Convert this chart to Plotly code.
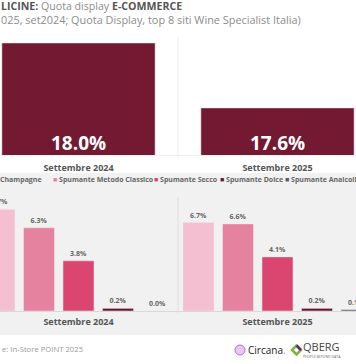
import plotly.graph_objects as go

# ---- data ----
periods = ["Settembre 2024", "Settembre 2025"]
total_share = [18.0, 17.6]
segments = ["Champagne", "Spumante Metodo Classico", "Spumante Secco",
            "Spumante Dolce", "Spumante Analcolico"]
seg_2024 = [7.7, 6.3, 3.8, 0.2, 0.0]
seg_2025 = [6.7, 6.6, 4.1, 0.2, 0.1]
seg_colors = ["#f4bfd0", "#e5829f", "#db4670", "#6b1631", "#5a5a5a"]
title_line1 = "<b>LICINE:</b> <span style='color:#8c8c8c'>Quota display</span> <b>E-COMMERCE</b>"
title_line2 = "025, set2024; Quota Display, top 8 siti Wine Specialist Italia)"
source_text = "e: In-Store POINT 2025"

W, H = 356, 364
FONT = "Open Sans"


def py(px):
    return 1 - px / H


def pxx(px):
    return px / W


fig = go.Figure()

# top chart
fig.add_trace(go.Bar(
    x=periods, y=total_share, marker_color="#731932", width=0.77,
    xaxis="x", yaxis="y", showlegend=False, hoverinfo="skip"))

# bottom chart
for name, v24, v25, col in zip(segments, seg_2024, seg_2025, seg_colors):
    vals = [v24, v25]
    fig.add_trace(go.Bar(
        x=periods, y=vals, name=name, marker_color=col,
        text=[f"{v:.1f}%" for v in vals], textposition="outside",
        textfont=dict(color="#666666", size=7, family=FONT, weight="bold"),
        xaxis="x2", yaxis="y2", showlegend=False, cliponaxis=True))

xr = [-0.3945, 1.3945]
common_x = dict(type="category", range=xr, domain=[0, 1], ticks="",
                showgrid=False, zeroline=False,
                tickfont=dict(size=9, color="#555555", family=FONT, weight="bold"))

fig.update_layout(
    width=W, height=H, margin=dict(l=0, r=0, t=0, b=0),
    paper_bgcolor="white", plot_bgcolor="rgba(0,0,0,0)",
    barmode="group", bargap=0.0075, bargroupgap=0.215,
    font=dict(family=FONT),
    xaxis=dict(anchor="y", showline=True, linecolor="#eeeeee",
               ticklabelstandoff=4, **common_x),
    yaxis=dict(domain=[py(155), py(37)], range=[17.31, 18.037], visible=False),
    xaxis2=dict(anchor="y2", showline=True, linecolor="#d9d9d9",
                ticklabelstandoff=2, **common_x),
    yaxis2=dict(domain=[py(311), py(190)], range=[0, 121 / 13.2], visible=False),
)

shapes = [
    # grey panel behind bottom chart
    dict(type="rect", xref="paper", yref="paper", x0=0, x1=1, y0=py(335), y1=py(173),
         fillcolor="#f1f1f1", line_width=0, layer="below"),
    dict(type="line", xref="x", yref="paper", x0=0.5, x1=0.5, y0=py(158), y1=py(37),
         line=dict(color="#efefef", width=1)),
    dict(type="line", xref="x2", yref="paper", x0=0.5, x1=0.5, y0=py(313), y1=py(197),
         line=dict(color="#dedede", width=1)),
    # Circana icon
    dict(type="circle", xref="paper", yref="paper", x0=pxx(235), x1=pxx(245),
         y0=py(355), y1=py(345), fillcolor="#e6c9f0", line=dict(color="#b46fd0", width=1)),
    # QBERG icon
    dict(type="path", xref="paper", yref="paper",
         path=f"M {pxx(292)},{py(350)} L {pxx(296.5)},{py(345.5)} L {pxx(301)},{py(350)} L {pxx(296.5)},{py(354.5)} Z",
         fillcolor="rgba(0,0,0,0)", line=dict(color="#7cb342", width=2.5)),
    dict(type="path", xref="paper", yref="paper",
         path=f"M {pxx(296.5)},{py(345.5)} L {pxx(301)},{py(350)}",
         line=dict(color="#6a2577", width=2.5)),
]

annotations = [
    dict(xref="paper", yref="paper", x=0, y=py(0), xanchor="left", yanchor="top",
         text="<span style='font-size:10.6px'>" + title_line1 + "</span><br>"
         + "<span style='color:#8c8c8c'>" + title_line2 + "</span>",
         showarrow=False, align="left", borderpad=0, yshift=2,
         font=dict(size=10.9, color="#555555", family=FONT)),
    dict(xref="paper", yref="paper", x=0, y=py(349), xanchor="left", yanchor="middle",
         text=source_text, showarrow=False,
         font=dict(size=7.7, color="#9a9a9a", family=FONT)),
    dict(xref="paper", yref="paper", x=pxx(246), y=py(350), xanchor="left", yanchor="middle",
         text="Circana<span style='color:#b46fd0'>.</span>", showarrow=False,
         font=dict(size=10, color="#222222", family=FONT)),
    dict(xref="paper", yref="paper", x=pxx(302), y=py(346), xanchor="left", yanchor="middle",
         text="QBERG", showarrow=False, borderpad=0,
         font=dict(size=11, color="#444444", family=FONT)),
    dict(xref="paper", yref="paper", x=pxx(302), y=py(356), xanchor="left", yanchor="middle",
         text="PEOPLE BEYOND DATA", showarrow=False, borderpad=0,
         font=dict(size=3.5, color="#666666", family=FONT)),
]

# value labels inside the top bars (at the bar base)
for p, v in zip(periods, total_share):
    annotations.append(dict(
        xref="x", yref="paper", x=p, y=py(143), xanchor="center", yanchor="middle",
        text=f"{v:.1f}%", showarrow=False,
        font=dict(size=19, color="white", family=FONT, weight="bold")))

# legend drawn as text items
leg_pos = [(44, "right"), (51, "left"), (152, "left"), (218, "left"), (283, "left")]
for (xp, anc), name, col in zip(leg_pos, segments, seg_colors):
    annotations.append(dict(
        xref="paper", yref="paper", x=pxx(xp), y=py(179), xanchor=anc, yanchor="middle",
        text=f"<span style='color:{col}'>■</span> {name}", showarrow=False,
        font=dict(size=7, color="#666666", family=FONT, weight="bold")))

fig.update_layout(shapes=shapes, annotations=annotations)
fig.write_html("out.html", config={"displayModeBar": False},
               post_script="document.body.style.margin='0';")
